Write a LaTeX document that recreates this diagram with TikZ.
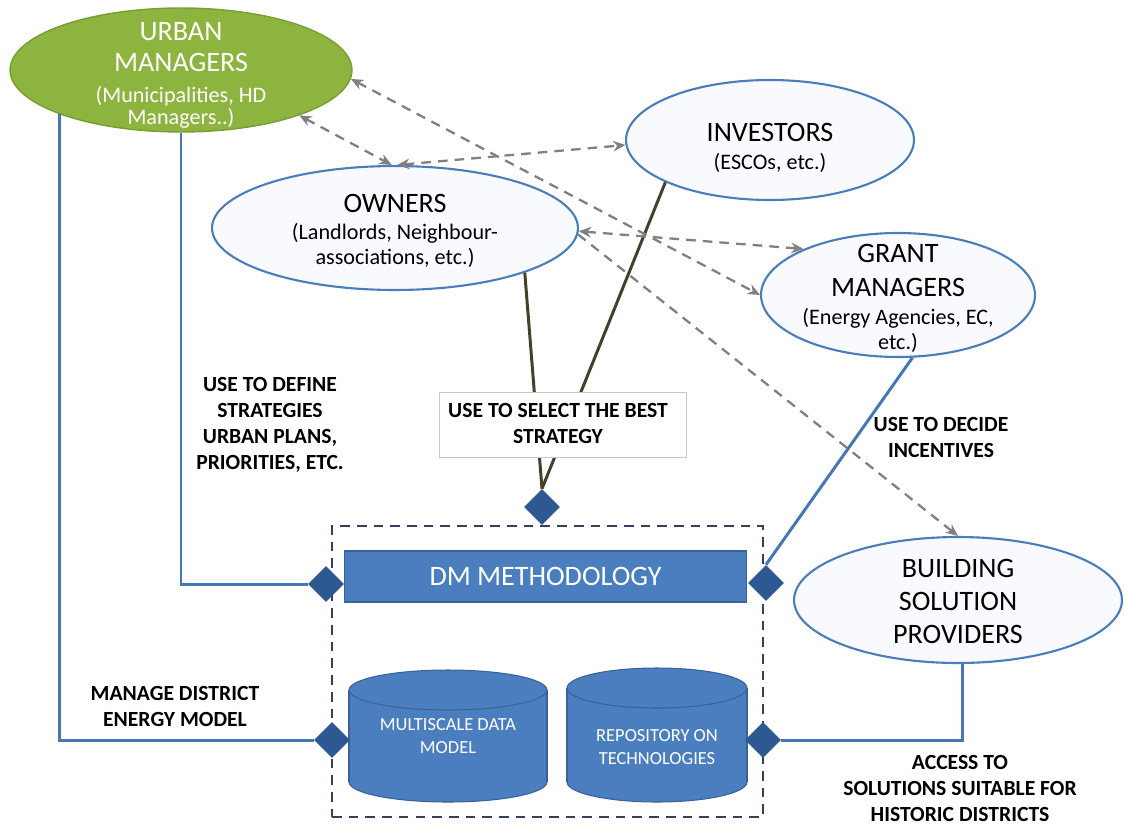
\documentclass[tikz,border=0pt]{standalone}
\usepackage{fontspec}
\setmainfont{Carlito}
\usetikzlibrary{shapes.geometric,arrows.meta}

\definecolor{umgreen}{RGB}{141,180,63}
\definecolor{umedge}{RGB}{120,158,52}
\definecolor{stkedge}{RGB}{74,126,187}
\definecolor{stkfill}{RGB}{248,250,254}
\definecolor{linkblue}{RGB}{70,118,180}
\definecolor{barblue}{RGB}{74,126,190}
\definecolor{baredge}{RGB}{58,98,152}
\definecolor{diamblue}{RGB}{45,88,145}
\definecolor{olivedark}{RGB}{66,66,44}
\definecolor{arrgray}{RGB}{128,128,128}
\definecolor{boxnavy}{RGB}{52,64,96}
\definecolor{boxgray}{RGB}{200,200,200}

\newcommand\ttlsize[1]{\fontsize{16}{#1}\selectfont}
\newcommand\subsize[1]{\fontsize{12.6}{#1}\selectfont}
\newcommand\lblsize{\fontsize{12.3}{14.8}\selectfont\bfseries}

\begin{document}
\begin{tikzpicture}[x=0.02cm,y=-0.02cm,
  urbanstyle/.style={ellipse, draw=umedge, line width=0.8pt, fill=umgreen, inner sep=0pt},
  stake/.style={ellipse, draw=stkedge, line width=1.2pt, fill=stkfill, inner sep=0pt},
  txt/.style={align=center, inner sep=0pt},
  lbl/.style={align=center, inner sep=0pt, font=\lblsize},
  bluelink/.style={draw=linkblue, line width=1.7pt},
  olivelink/.style={draw=olivedark, line width=1.7pt},
  pairarrow/.style={draw=arrgray, line width=1.3pt, dash pattern=on 5.5pt off 4pt,
     {Stealth[length=7pt,width=6pt]}-{Stealth[length=7pt,width=6pt]}},
  onearrow/.style={draw=arrgray, line width=1.3pt, dash pattern=on 5.5pt off 4pt,
     -{Stealth[length=7pt,width=6pt]}},
  jointdiamond/.style={diamond, fill=diamblue, inner sep=0pt, minimum width=0.72cm, minimum height=0.72cm},
  dmbar/.style={rectangle, fill=barblue, draw=baredge, line width=0.6pt, text=white,
     minimum width=8.06cm, minimum height=1.02cm, font=\fontsize{16}{19}\selectfont},
  drumfill/.style={fill=barblue},
  drumedge/.style={draw=baredge, line width=0.6pt},
  drumtext/.style={align=center, inner sep=0pt, text=white}
]
\useasboundingbox (0,0) rectangle (1125,825);

% ---- stakeholders ----
\node[urbanstyle, minimum width=6.84cm, minimum height=2.48cm] (um) at (181,70) {};
\node[txt, text=white, font=\ttlsize{17.6pt}] (umtitle) at (181,47.5) {URBAN\\MANAGERS};
\node[txt, text=white, font=\subsize{12.2pt}] (umsub) at (181,107.5) {(Municipalities, HD\\Managers..)};

\node[stake, minimum width=5.76cm, minimum height=2.4cm] (inv) at (770,140) {};
\node[txt, font=\ttlsize{17.6pt}] (invtitle) at (770,132) {INVESTORS};
\node[txt, font=\subsize{14pt}] (invsub) at (770,163) {(ESCOs, etc.)};

\node[stake, minimum width=7.32cm, minimum height=2.48cm] (own) at (395,228) {};
\node[txt, font=\ttlsize{17.6pt}] (owntitle) at (395,203) {OWNERS};
\node[txt, font=\subsize{14.2pt}] (ownsub) at (395,245.5) {(Landlords, Neighbour-\\associations, etc.)};

\node[stake, minimum width=5.48cm, minimum height=2.48cm] (gm) at (898,295) {};
\node[txt, font=\ttlsize{19.8pt}] (gmtitle) at (898,270.5) {GRANT\\MANAGERS};
\node[txt, font=\subsize{14.2pt}] (gmsub) at (898,330.5) {(Energy Agencies, EC,\\etc.)};

\node[stake, minimum width=6.56cm, minimum height=2.52cm] (bsp) at (958,600) {};
\node[txt, font=\ttlsize{19pt}] (bsptitle) at (958,601.5) {BUILDING\\SOLUTION\\PROVIDERS};

% ---- decision-making tool ----
\node[draw=boxnavy, line width=1.4pt, dash pattern=on 5.5pt off 4pt,
      minimum width=8.62cm, minimum height=5.82cm, inner sep=0pt] (tool) at (547.5,671.5) {};
\node[dmbar] (dm) at (545.5,576.5) {DM METHODOLOGY};

% data model drum
\fill[drumfill] (349,690) rectangle (547,782);
\path[drumfill, drumedge] (448,782) ellipse [x radius=1.98cm, y radius=0.4cm];
\fill[drumfill] (349,690) rectangle (547,782);
\draw[drumedge] (349,690) -- (349,782) (547,690) -- (547,782);
\path[drumfill, drumedge] (448,690) ellipse [x radius=1.98cm, y radius=0.4cm];
\node[drumtext, font=\fontsize{10.5}{13}\selectfont] (mdm) at (448,736) {MULTISCALE DATA\\MODEL};

% repository drum
\fill[drumfill] (567,688) rectangle (747,782);
\path[drumfill, drumedge] (657,782) ellipse [x radius=1.8cm, y radius=0.4cm];
\fill[drumfill] (567,688) rectangle (747,782);
\draw[drumedge] (567,688) -- (567,782) (747,688) -- (747,782);
\path[drumfill, drumedge] (657,688) ellipse [x radius=1.8cm, y radius=0.4cm];
\node[drumtext, font=\fontsize{10.5}{12.6}\selectfont] (rep) at (657,747) {REPOSITORY ON\\TECHNOLOGIES};

% ---- connection points ----
\node[jointdiamond] (dtop) at (542,507) {};
\node[jointdiamond] (d1) at (326,584) {};
\node[jointdiamond] (d2) at (766,583) {};
\node[jointdiamond] (d3) at (332,740) {};
\node[jointdiamond] (d4) at (763,740) {};

% ---- usage links ----
\draw[bluelink] (um.200.5) |- (d3.west);
\draw[bluelink] (um.south) |- (d1.west);
\draw[bluelink] (gm.-77.5) -- (d2.north);
\draw[bluelink] (bsp.-86) |- (d4.east);
\draw[olivelink] (own.-19.4) -- (dtop.north);
\draw[olivelink] (inv.202) -- (dtop.north);

% ---- relations between stakeholders ----
\draw[pairarrow] (um.-21) -- (own.93);
\draw[pairarrow] (own.88) -- (inv.182);
\draw[pairarrow] (um.-3) -- (gm.180);
\draw[pairarrow] (own.-1) -- (gm.154.7);
\draw[onearrow] (own.-2) -- (bsp.north);

% ---- labels ----
\node[draw=boxgray, line width=0.5pt, fill=white, minimum width=4.94cm, minimum height=1.3cm,
      inner sep=0pt] (selbox) at (562.5,424.5) {};
\node[lbl] (sellbl) at (558,423.5) {USE TO SELECT THE BEST\\STRATEGY};
\node[lbl] (deflbl) at (270,424.5) {USE TO DEFINE\\STRATEGIES\\URBAN PLANS,\\PRIORITIES, ETC.};
\node[lbl] (mglbl) at (175,706) {MANAGE DISTRICT\\ENERGY MODEL};
\node[lbl] (declbl) at (941,437) {USE TO DECIDE\\INCENTIVES};
\node[lbl] (acclbl) at (960,788) {ACCESS TO\\SOLUTIONS SUITABLE FOR\\HISTORIC DISTRICTS};
\end{tikzpicture}
\end{document}
